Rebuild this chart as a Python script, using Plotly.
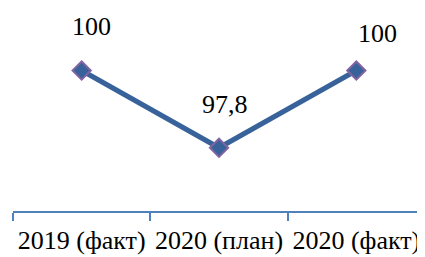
import plotly.graph_objects as go

categories = ["2019 (факт)", "2020 (план)", "2020 (факт)"]
values = [100, 97.8, 100]
value_labels = ["100", "97,8", "100"]

# label offsets in pixels (style, not data)
label_dx = [10, 6, 21]
label_dy = [44, 43, 37]

LINE_COLOR = "#38629A"
MARKER_EDGE = "#8064A2"
AXIS_COLOR = "#4F81BD"
FONT = "Liberation Serif"

fig = go.Figure()
fig.add_trace(go.Scatter(
    x=categories, y=values, mode="lines+markers",
    line=dict(color=LINE_COLOR, width=5),
    marker=dict(symbol="diamond", size=14, color=LINE_COLOR,
                line=dict(color=MARKER_EDGE, width=2)),
    hoverinfo="skip", showlegend=False,
))

for c, v, t, dx, dy in zip(categories, values, value_labels, label_dx, label_dy):
    fig.add_annotation(x=c, y=v, text=t, showarrow=False,
                       xshift=dx, yshift=dy, xanchor="center", yanchor="middle",
                       font=dict(family=FONT, size=26, color="black"))

fig.update_layout(
    width=417, height=249,
    margin=dict(l=5, r=0, t=0, b=46),
    paper_bgcolor="white", plot_bgcolor="white",
    font=dict(family=FONT),
    xaxis=dict(type="category", range=[-0.5, 2.5], showgrid=False, zeroline=False,
               showline=True, linecolor=AXIS_COLOR, linewidth=1.5,
               ticks="outside", tickson="boundaries", ticklen=8, tickwidth=1.5,
               tickcolor=AXIS_COLOR, tickangle=0, automargin=False,
               ticklabelstandoff=5,
               tickfont=dict(family=FONT, size=26, color="black")),
    yaxis=dict(range=[96.0, 101.78], visible=False, showgrid=False, zeroline=False,
               automargin=False),
)

fig.write_html("out.html")
